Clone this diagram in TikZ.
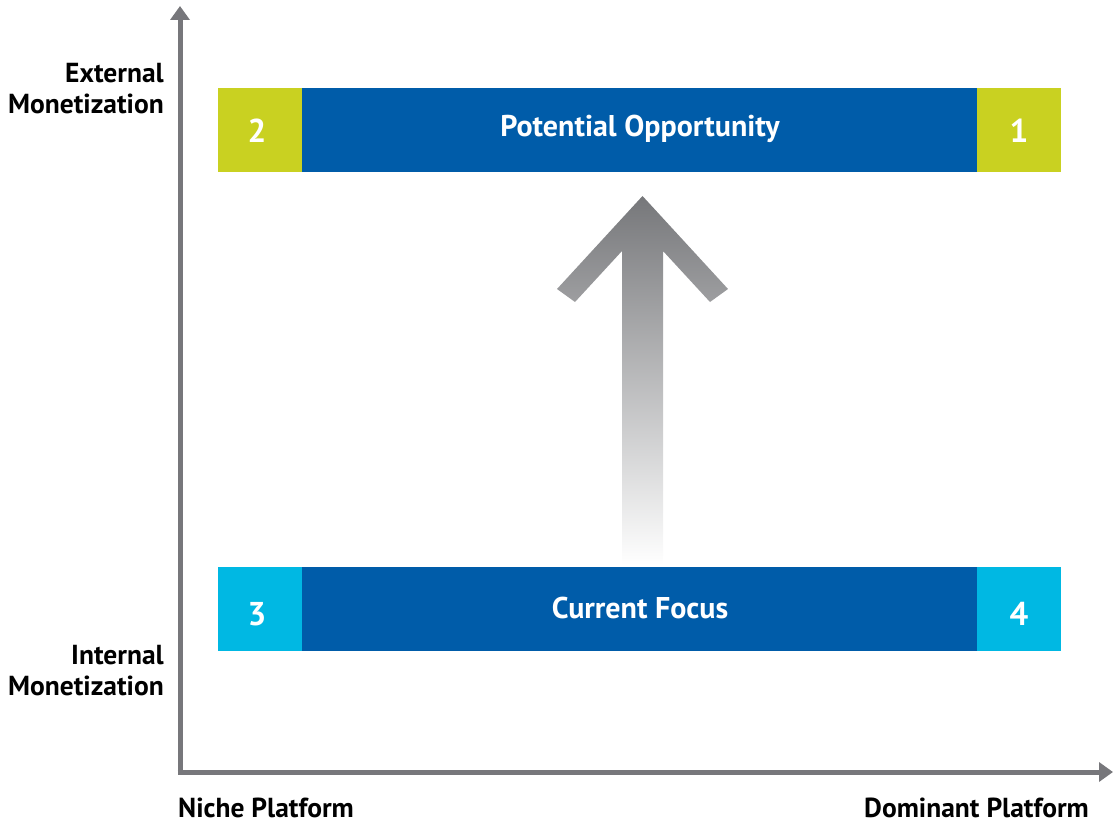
\documentclass[tikz,border=0pt]{standalone}
\usepackage{fontspec}
\setmainfont{PT Sans}
\usetikzlibrary{arrows.meta}
\definecolor{axisgray}{HTML}{77777B}
\definecolor{lime}{HTML}{C9D121}
\definecolor{deepblue}{HTML}{005CA9}
\definecolor{sky}{HTML}{00B8E3}
\definecolor{arrowtop}{HTML}{76777A}
\tikzset{
  axis/.style={draw=axisgray, line width=5pt, -{Triangle[width=19pt,length=14pt]}},
  cell/.style={fill=#1, draw=none},
  numtext/.style={text=white, font=\fontsize{33}{33}\selectfont\bfseries},
  bartext/.style={text=white, font=\fontsize{30}{30}\selectfont\bfseries},
  axlabel/.style={text=black, inner sep=0pt, font=\fontsize{27.5}{31}\selectfont\bfseries}
}
\begin{document}
\begin{tikzpicture}[x=1pt,y=-1pt]
\useasboundingbox (0,0) rectangle (1113,824);
% axes
\coordinate (origin) at (180,772);
\coordinate (ytop) at (180,6);
\coordinate (xend) at (1113,772);
\draw[axis] (180,774.5) -- (ytop);
\draw[axis] (177.5,772) -- (xend);
% top row
\fill[cell=lime] (218,88) rectangle (302,172);
\fill[cell=deepblue] (302,88) rectangle (977,172);
\fill[cell=lime] (977,88) rectangle (1061,172);
\node[numtext] (n2) at (257,131) {2};
\node[bartext] (po) at (640,129) {Potential Opportunity};
\node[numtext] (n1) at (1019,131) {1};
% bottom row
\fill[cell=sky] (218,567) rectangle (302,651);
\fill[cell=deepblue] (302,567) rectangle (977,651);
\fill[cell=sky] (977,567) rectangle (1061,651);
\node[numtext] (n3) at (257,614) {3};
\node[bartext] (cf) at (640,608) {Current Focus};
\node[numtext] (n4) at (1019,614) {4};
% big arrow
\shade[top color=arrowtop, bottom color=white]
  (642.5,196) -- (728,289) -- (710,302) -- (663,251) -- (663,565)
  -- (622,565) -- (622,251) -- (575,302) -- (557,289) -- cycle;
% labels
\node[axlabel, anchor=east, align=right] (ext) at (164,89) {External\\Monetization};
\node[axlabel, anchor=east, align=right] (int) at (164,671) {Internal\\Monetization};
\node[axlabel, anchor=west] (niche) at (178,808) {Niche Platform};
\node[axlabel, anchor=east] (dom) at (1089,808) {Dominant Platform};
\end{tikzpicture}
\end{document}
